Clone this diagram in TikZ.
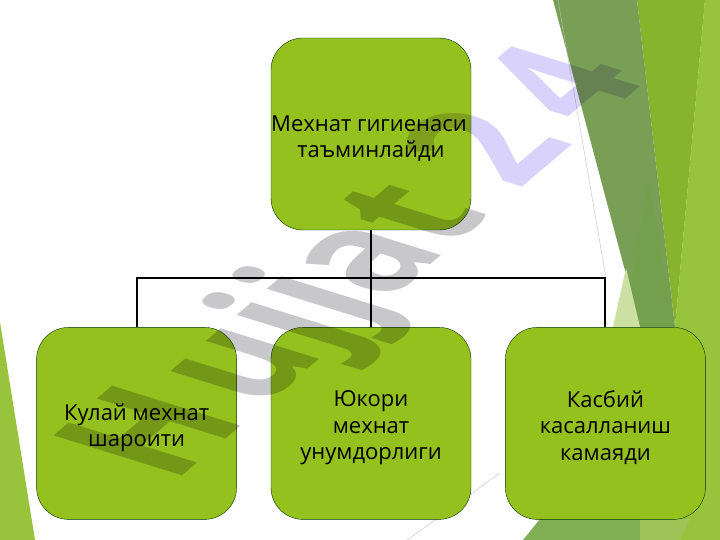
\documentclass[tikz,border=0pt]{standalone}
\usepackage{fontspec}
\setmainfont{Open Sans}
\usetikzlibrary{positioning}
\definecolor{boxgreen}{HTML}{95C11F}
\definecolor{facetlight}{HTML}{98C33C}
\definecolor{facetmid}{HTML}{87B42D}
\definecolor{facetdark}{HTML}{789F55}
\definecolor{facetdeep}{HTML}{74A04E}
\definecolor{facetpale}{HTML}{CBE0A2}
\definecolor{facetlow}{HTML}{80AE52}
\definecolor{wmgray}{HTML}{C8C8CA}
\definecolor{wmviolet}{HTML}{D9D2FA}
\newcommand{\lowerline}{\rule{0pt}{25pt}}
\tikzset{
    topicbox/.style={draw=black!80!green,fill=boxgreen,rounded corners=32pt,minimum width=200pt,
        minimum height=192pt,align=center,inner sep=0pt,font=\fontsize{22}{26.5}\selectfont},
    link/.style={draw=black,line width=2pt},
    hairline/.style={draw=black!25,line width=.4pt}
}

\begin{document}
\begin{tikzpicture}[x=1pt,y=-1pt,node distance=34pt]
    \useasboundingbox (0,0) rectangle (720,540);
    % facet shapes
    \fill[facetlight] (0,322) -- (35,540) -- (0,540) -- cycle;
    \fill[facetlight] (705,0) -- (720,0) -- (720,540) -- (650,540) -- (675,327) -- cycle;
    \fill[facetmid] (637,0) -- (705,0) -- (675,327) -- cycle;
    \fill[facetdark] (553,0) -- (637,0) -- (675,327) -- (640,327) -- cycle;
    \fill[facetdeep] (648,180) -- (675,327) -- (640,327) -- (630,290) -- cycle;
    \fill[facetpale] (626,268) -- (640,327) -- (613,327) -- cycle;
    \fill[facetlow] (540,519) -- (640,519) -- (640,540) -- (523,540) -- cycle;
    \fill[facetmid!80!white] (640,519) -- (690,519) -- (680,540) -- (640,540) -- cycle;
    \draw[hairline] (558,0) -- (606,278);
    \draw[hairline] (407,540) -- (500,473);

    \node[topicbox] (hygiene) at (371,134) {\lowerline Мехнат гигиенаси\hspace*{4pt}\\таъминлайди};
    \node[topicbox] (output) [below = 97pt of hygiene] {\lowerline Юкори\\мехнат\\унумдорлиги};
    \node[topicbox] (comfort) [left = of output] {\lowerline Кулай мехнат\\шароити};
    \node[topicbox] (disease) [right = of output] {\lowerline Касбий\\касалланиш\\камаяди};
    \coordinate (fork) at (371,278);

    \draw[link] (hygiene) -- (output);
    \draw[link] (comfort.north) |- (fork);
    \draw[link] (disease.north) |- (fork);

    % watermark
    \begin{scope}[blend mode=multiply]
        \node[cm={1.0,.85,-1.8,.56,(173,484)},transform shape,anchor=base west,inner sep=0pt,
            font=\fontsize{100}{100}\selectfont\bfseries] (mark)
            {\textcolor{wmgray}{H\kern12pt ujjat} \textcolor{wmviolet}{2\kern18pt 4}};
    \end{scope}
\end{tikzpicture}
\end{document}
